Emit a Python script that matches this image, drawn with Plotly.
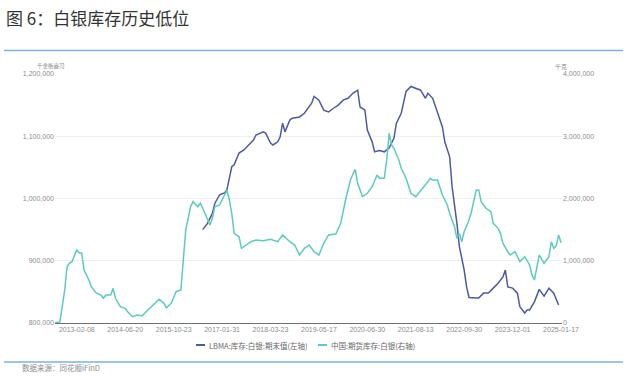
import plotly.graph_objects as go

# ---- data (x = position index along the category axis) ----
tick_idx = [9, 29, 49, 69, 89, 109, 129, 149, 169, 189, 209]
tick_text = ["2013-02-08", "2014-06-20", "2015-10-23", "2017-01-31", "2018-03-23",
             "2019-05-17", "2020-06-30", "2021-08-13", "2022-09-30", "2023-12-01", "2025-01-17"]

# 中国:期货库存:白银 (右轴, 千克), values in thousands
cn_idx = [0, 2, 3, 4, 5, 6, 7, 9, 10, 11, 12, 14, 15, 17, 19, 20, 21, 23, 24, 25, 27, 29, 30, 32, 34, 36, 37, 39,
          41, 43, 45, 46, 48, 49, 50, 52, 53, 54, 56, 57, 59, 60, 61, 63, 64, 65, 66, 68, 70, 71, 72, 73, 74, 76,
          77, 79, 81, 83, 86, 89, 92, 94, 97, 99, 101, 103, 105, 107, 109, 111, 113, 116, 118, 120, 122, 124, 125,
          127, 129, 131, 133, 134, 136, 137, 138, 139, 140, 142, 143, 145, 147, 149, 152, 154, 155, 156, 158, 160,
          162, 163, 165, 166, 167, 168, 169, 171, 172, 174, 175, 176, 178, 180, 181, 183, 184, 185, 187, 188, 190,
          192, 194, 196, 197, 198, 200, 201, 202, 204, 205, 206, 207, 208, 209]
cn_val_k = [5, 16, 262, 530, 904, 964, 985, 1173, 1124, 1124, 851, 691, 583, 482, 450, 397, 450, 450, 557, 397, 262,
            236, 182, 101, 129, 112, 156, 236, 316, 381, 316, 246, 316, 397, 503, 530, 959, 1494, 1868, 1949, 1868,
            1923, 1843, 1655, 1574, 1682, 1868, 1896, 2056, 2137, 1976, 1762, 1441, 1386, 1200, 1253, 1306, 1333,
            1322, 1345, 1306, 1414, 1306, 1253, 1092, 1200, 1253, 1145, 1092, 1280, 1414, 1430, 1602, 1976, 2297,
            2469, 2244, 2029, 2084, 2190, 2378, 2325, 2325, 2618, 3047, 2859, 2806, 2618, 2485, 2325, 2084, 2029,
            2164, 2270, 2325, 2297, 2297, 2056, 1896, 1762, 1547, 1361, 1441, 1306, 1467, 1655, 1788, 2137, 2137,
            1949, 1843, 1788, 1602, 1521, 1441, 1280, 1145, 1092, 1145, 985, 1065, 932, 771, 691, 1092, 1012, 959,
            1065, 1306, 1200, 1240, 1414, 1290]

# LBMA:库存:白银:期末值 (左轴, 千金衡盎司), values in thousands
lbma_idx = [61, 63, 65, 66, 68, 70, 71, 72, 73, 74, 76, 78, 80, 82, 83, 86, 87, 89, 90, 92, 93, 94, 95, 97, 98,
            101, 103, 105, 106, 107, 109, 111, 113, 115, 117, 119, 121, 123, 125, 126, 128, 129, 131, 132, 134,
            136, 138, 140, 141, 143, 144, 145, 147, 149, 151, 153, 154, 156, 158, 160, 161, 163, 164, 165, 166,
            167, 169, 170, 171, 174, 175, 177, 179, 181, 183, 185, 186, 187, 189, 191, 192, 194, 195, 196, 198,
            200, 202, 204, 206, 208]
lbma_val_k = [950, 960, 976, 992, 1006, 1009, 1014, 1030, 1051, 1054, 1073, 1078, 1086, 1094, 1102, 1107, 1105,
              1089, 1086, 1091, 1099, 1121, 1107, 1126, 1129, 1131, 1137, 1147, 1153, 1164, 1158, 1142, 1139, 1145,
              1150, 1158, 1161, 1169, 1174, 1147, 1142, 1110, 1091, 1075, 1077, 1075, 1081, 1097, 1121, 1137, 1153,
              1172, 1180, 1177, 1174, 1161, 1169, 1161, 1139, 1115, 1091, 1067, 1019, 992, 960, 923, 885, 858, 841,
              840, 840, 848, 848, 856, 864, 874, 885, 858, 856, 848, 826, 816, 821, 821, 834, 854, 843, 856, 848, 829]

left_ticks = [800000, 900000, 1000000, 1100000, 1200000]
right_ticks = [0, 1000000, 2000000, 3000000, 4000000]

NAVY = "#4f5a9a"
TEAL = "#5ccabd"
BLUE_RULE = "#7fb0de"
TICK_COLOR = "#8c8c8c"
FONT = "Noto Sans CJK SC"

W, H = 627, 385
PL, PR, PT, PB = 55, 562, 74, 323          # plot area in window pixels
L, T = PL, PT
R, B = W - PR, H - PB

fig = go.Figure()
fig.add_trace(go.Scatter(x=lbma_idx, y=[v * 1000 for v in lbma_val_k], mode="lines",
                         line=dict(color=NAVY, width=1.5), name="LBMA:库存:白银:期末值(左轴)",
                         yaxis="y"))
fig.add_trace(go.Scatter(x=cn_idx, y=[v * 1000 for v in cn_val_k], mode="lines",
                         line=dict(color=TEAL, width=1.5), name="中国:期货库存:白银(右轴)",
                         yaxis="y2"))

fig.update_layout(
    width=W, height=H, autosize=False,
    margin=dict(l=L, r=R, t=T, b=B, pad=0),
    paper_bgcolor="white", plot_bgcolor="white",
    showlegend=False,
    font=dict(family=FONT, color=TICK_COLOR, size=7),
    xaxis=dict(range=[0, 209.4], tickmode="array", tickvals=tick_idx, ticktext=tick_text,
               showgrid=False, zeroline=False, showline=True, linecolor="#6e7079", linewidth=1,
               ticks="", tickfont=dict(family="Liberation Sans, Arial", size=7, color=TICK_COLOR)),
    yaxis=dict(range=[800000, 1200000], tickmode="array", tickvals=left_ticks, tickformat=",d",
               showgrid=True, gridcolor="#efefef", gridwidth=1, zeroline=False, showline=False,
               ticks="", tickfont=dict(family="Liberation Sans, Arial", size=7, color=TICK_COLOR)),
    yaxis2=dict(range=[0, 4000000], tickmode="array", tickvals=right_ticks, tickformat=",d",
                overlaying="y", side="right", showgrid=True, gridcolor="#efefef", zeroline=False,
                showline=False, ticks="",
                tickfont=dict(family="Liberation Sans, Arial", size=7, color=TICK_COLOR)),
)

def px_x(px):
    return (px - PL) / (PR - PL)

def px_y(py):
    return (PB - py) / (PB - PT)

shapes = []
annots = []
# Title and decorative rules
annots.append(dict(text="图 6：白银库存历史低位", x=px_x(4), y=px_y(17), xref="paper", yref="paper",
                   xanchor="left", yanchor="middle", showarrow=False,
                   font=dict(family=FONT, size=17, color="#333333")))
shapes.append(dict(type="line", xref="paper", yref="paper", x0=px_x(4), x1=px_x(623),
                   y0=px_y(50.5), y1=px_y(50.5), line=dict(color=BLUE_RULE, width=1.5)))
shapes.append(dict(type="line", xref="paper", yref="paper", x0=px_x(4), x1=px_x(623),
                   y0=px_y(362), y1=px_y(362), line=dict(color=BLUE_RULE, width=1.5)))
annots.append(dict(text="数据来源：同花顺iFinD", x=px_x(20), y=px_y(367), xref="paper", yref="paper",
                   xanchor="left", yanchor="middle", showarrow=False,
                   font=dict(family=FONT, size=7.5, color="#8c8c8c")))
# Axis units
annots.append(dict(text="千金衡盎司", x=px_x(51), y=px_y(66), xref="paper", yref="paper",
                   xanchor="center", yanchor="middle", showarrow=False,
                   font=dict(family=FONT, size=5.5, color="#8c8c8c")))
annots.append(dict(text="千克", x=px_x(561), y=px_y(66), xref="paper", yref="paper",
                   xanchor="center", yanchor="middle", showarrow=False,
                   font=dict(family=FONT, size=6, color="#8c8c8c")))
# Legend
legend_items = [(NAVY, "LBMA:库存:白银:期末值(左轴)", 196), (TEAL, "中国:期货库存:白银(右轴)", 318)]
for color, label, x0 in legend_items:
    shapes.append(dict(type="line", xref="paper", yref="paper", x0=px_x(x0), x1=px_x(x0 + 9),
                       y0=px_y(345), y1=px_y(345), line=dict(color=color, width=2)))
    annots.append(dict(text=label, x=px_x(x0 + 11), y=px_y(345), xref="paper", yref="paper",
                       xanchor="left", yanchor="middle", showarrow=False,
                       font=dict(family=FONT, size=7.5, color="#666666")))

fig.update_layout(shapes=shapes, annotations=annots)
# remove the browser's default 8px page margin so the 627x385 figure fills the window
fig.write_html("out.html", config={"displayModeBar": False, "staticPlot": True},
               post_script="document.body.style.margin='0';document.body.style.overflow='hidden';")
